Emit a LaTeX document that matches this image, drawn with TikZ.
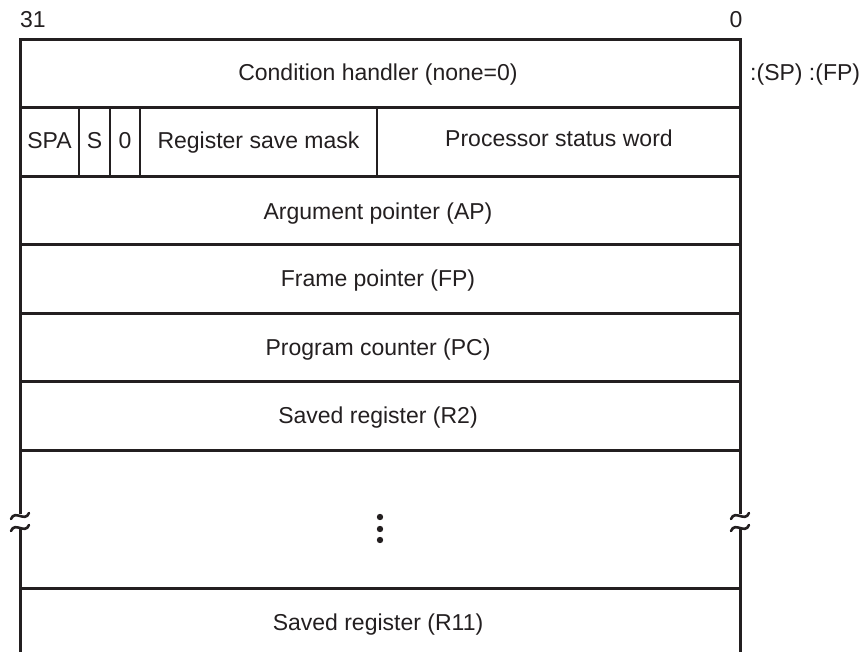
\documentclass[tikz,border=0pt]{standalone}
\usepackage{fontspec}
\setmainfont{Liberation Sans}
\definecolor{ink}{HTML}{231F20}
\begin{document}
\begin{tikzpicture}[x=1pt,y=-1pt,
  frame/.style={draw=ink,line width=3pt},
  divider/.style={draw=ink,line width=2.2pt},
  squig/.style={draw=ink,line width=2.6pt,line cap=round},
  lbl/.style={text=ink,font=\fontsize{23}{27}\selectfont,inner sep=0pt,anchor=base},
  dot/.style={fill=ink,draw=none}]
\useasboundingbox (0,0) rectangle (863,652);
% outer frame
\draw[frame] (20,514) -- (20,40) -- (740,40) -- (740,514);
\draw[frame] (20,527) -- (20,652);
\draw[frame] (740,527) -- (740,652);
% rows
\foreach \yy in {108,177,245,314,382,451,588}
  \draw[frame] (20,\yy) -- (740,\yy);
% row 2 dividers
\foreach \xx in {79,110,140,377}
  \draw[divider] (\xx,108) -- (\xx,177);
% break marks
\foreach \xx in {20,740}{
  \draw[squig] (\xx-9,519) .. controls (\xx-5,509) and (\xx+5,523) .. (\xx+9,513);
  \draw[squig] (\xx-9,531) .. controls (\xx-5,521) and (\xx+5,535) .. (\xx+9,525);
}
% labels
\node[lbl] (b31) at (33,28) {31};
\node[lbl] (b0) at (736,28) {0};
\node[lbl,anchor=base west] (ptr) at (750,81) {:(SP) :(FP)};
\node[lbl] (ch) at (378,81) {Condition handler (none=0)};
\node[lbl] (spa) at (49.5,149) {SPA};
\node[lbl] (s) at (94.5,149) {S};
\node[lbl] (z) at (125,149) {0};
\node[lbl] (rsm) at (258.5,149) {Register save mask};
\node[lbl] (psw) at (559,147) {Processor status word};
\node[lbl] (ap) at (378,220) {Argument pointer (AP)};
\node[lbl] (fp) at (378,287) {Frame pointer (FP)};
\node[lbl] (pc) at (378,356) {Program counter (PC)};
\node[lbl] (r2) at (378,424) {Saved register (R2)};
\node[lbl] (r11) at (378,630) {Saved register (R11)};
% vertical ellipsis
\fill[dot] (380,517) circle (3.2);
\fill[dot] (380,529) circle (3.2);
\fill[dot] (380,540) circle (3.2);
\end{tikzpicture}
\end{document}
